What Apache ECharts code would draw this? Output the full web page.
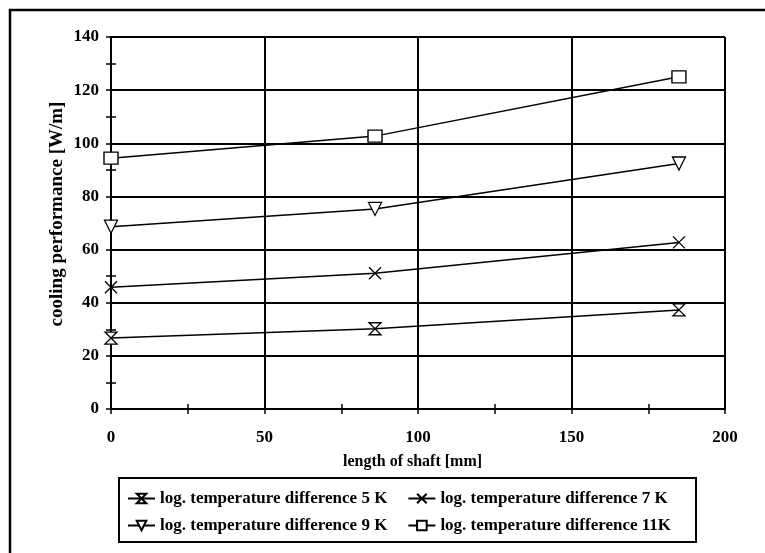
<!DOCTYPE html>
<html>
<head>
<meta charset="utf-8">
<script src="https://cdn.jsdelivr.net/npm/echarts@6/dist/echarts.min.js"></script>
<style>
html,body{margin:0;padding:0;background:#fff;}
#chart{width:765px;height:553px;}
</style>
</head>
<body>
<div id="chart"></div>
<script>
// data
var shaftLength = [0, 86, 185];
var dT5  = [26.7, 30.2, 37.3];
var dT7  = [45.8, 51.1, 62.7];
var dT9  = [68.6, 75.3, 92.4];
var dT11 = [94.4, 102.7, 125];
var names = [
	'log. temperature difference 5 K',
	'log. temperature difference 7 K',
	'log. temperature difference 9 K',
	'log. temperature difference 11K'
];

var FONT = '"Liberation Serif", "DejaVu Serif", serif';

//符号
var symHourglass = 'path://M0,0L10,0L0,10L10,10Z';
var symCross = 'path://M0,0L10,10M10,0L0,10';
var symTriDown = 'path://M0,0L10,0L5,10Z';

function pairs(ys) {
	var out = [];
	for (var i = 0; i < shaftLength.length; i++) {
		out.push([shaftLength[i], ys[i]]);
	}
	return out;
}

function makeSeries(name, ys, symbol, size) {
	return {
		name: name,
		type: 'line',
		xAxisIndex: 0,
		yAxisIndex: 0,
		data: pairs(ys),
		symbol: symbol,
		symbolSize: size,
		symbolKeepAspect: true,
		showAllSymbol: true,
		lineStyle: {color: '#000', width: 1.5},
		itemStyle: {color: '#fff', borderColor: '#000', borderWidth: 1.3},
		emphasis: {disabled: true},
		z: 5
	};
}

function $ext(a, b) {
	var o = {};
	for (var k in a) { o[k] = a[k]; }
	for (var j in b) { o[j] = b[j]; }
	return o;
}

var legendCommon = {
	left: 122,
	itemWidth: 27,
	itemHeight: 12,
	itemGap: 20,
	textStyle: {fontFamily: FONT, fontSize: 17, fontWeight: 'bold', color: '#000'},
	selectedMode: false
};

var option = {
	animation: false,
	backgroundColor: '#fff',
	grid: {left: 111, right: 40, top: 37, bottom: 144},
	xAxis: [{
		type: 'value', min: 0, max: 200, interval: 50,
		name: 'length of shaft [mm]', nameLocation: 'middle', nameGap: 45,
		nameTextStyle: {fontFamily: FONT, fontSize: 16, fontWeight: 'bold', color: '#000', padding: [0, 11, 0, 0]},
		axisLine: {show: true, onZero: false, lineStyle: {color: '#000', width: 2}},
		axisTick: {show: true, length: 5, lineStyle: {color: '#000', width: 1.5}},
		minorTick: {show: true, splitNumber: 2, length: 5, lineStyle: {color: '#000', width: 1.5}},
		axisLabel: {margin: 20, fontFamily: FONT, fontSize: 17, fontWeight: 'bold', color: '#000'},
		splitLine: {show: true, lineStyle: {color: '#000', width: 2}}
	}, {
		// 内侧小刻度
		type: 'value', min: 0, max: 200, interval: 25, position: 'bottom',
		axisLine: {show: false},
		axisTick: {show: true, inside: true, length: 5, lineStyle: {color: '#000', width: 1.5}},
		axisLabel: {show: false},
		splitLine: {show: false}
	}],
	yAxis: [{
		type: 'value', min: 0, max: 140, interval: 20,
		name: 'cooling performance [W/m]', nameLocation: 'middle', nameGap: 44, nameRotate: 90,
		nameMoveOverlap: false,
		nameTextStyle: {fontFamily: FONT, fontSize: 19, fontWeight: 'bold', color: '#000', padding: [0, 0, 0, 18]},
		axisLine: {show: true, onZero: false, lineStyle: {color: '#000', width: 2}},
		axisTick: {show: true, length: 5, lineStyle: {color: '#000', width: 1.5}},
		minorTick: {show: true, splitNumber: 2, length: 5, lineStyle: {color: '#000', width: 1.5}},
		axisLabel: {margin: 12, fontFamily: FONT, fontSize: 17, fontWeight: 'bold', color: '#000'},
		splitLine: {show: true, lineStyle: {color: '#000', width: 2}}
	}, {
		type: 'value', min: 0, max: 140, interval: 10, position: 'left',
		axisLine: {show: false},
		axisTick: {show: true, inside: true, length: 5, lineStyle: {color: '#000', width: 1.5}},
		axisLabel: {show: false},
		splitLine: {show: false}
	}],
	legend: [
		$ext(legendCommon, {top: 485, data: [names[0], names[1]]}),
		$ext(legendCommon, {top: 512, data: [names[2], names[3]]})
	],
	graphic: [{
		type: 'rect', shape: {x: 10, y: 10, width: 800, height: 600},
		style: {fill: null, stroke: '#000', lineWidth: 2.5}, silent: true
	}, {
		type: 'rect', shape: {x: 119, y: 478, width: 577, height: 64},
		style: {fill: null, stroke: '#000', lineWidth: 2}, silent: true
	}],
	series: [
		makeSeries(names[0], dT5, symHourglass, 12),
		makeSeries(names[1], dT7, symCross, 12),
		makeSeries(names[2], dT9, symTriDown, 13),
		makeSeries(names[3], dT11, 'rect', [14, 12])
	]
};

var myChart = echarts.init(document.getElementById('chart'));
myChart.setOption(option);
</script>
</body>
</html>
